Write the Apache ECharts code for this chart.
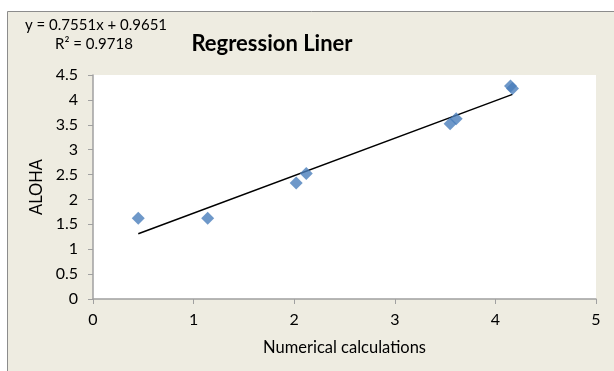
<!DOCTYPE html>
<html>
<head>
<meta charset="utf-8">
<script src="https://cdn.jsdelivr.net/npm/echarts@6/dist/echarts.min.js"></script>
<style>
html,body{margin:0;padding:0;background:#ffffff;}
#c{width:614px;height:371px;}
</style>
</head>
<body>
<div id="c"></div>
<script>
// Data
var xValues = [0.45, 1.14, 2.02, 2.12, 3.55, 3.61, 4.15, 4.17];
var yValues = [1.62, 1.62, 2.33, 2.52, 3.52, 3.62, 4.28, 4.23];
var trendX = [0.45, 4.17];
var trendY = [1.31, 4.11];
var xTicks = [0, 1, 2, 3, 4, 5];
var yTicks = [0, 0.5, 1, 1.5, 2, 2.5, 3, 3.5, 4, 4.5];
var titleText = 'Regression Liner';
var equationText = 'y = 0.7551x + 0.9651';
var r2Text = 'R\u00B2 = 0.9718';
var xName = 'Numerical calculations';
var yName = 'ALOHA';

var points = xValues.map(function (x, i) { return [x, yValues[i]]; });
var trend = trendX.map(function (x, i) { return [x, trendY[i]]; });

var FONT = 'Lato';
var chart = echarts.init(document.getElementById('c'), null, {renderer: 'canvas'});
chart.setOption({
  animation: false,
  backgroundColor: '#ffffff',
  graphic: [
    {type: 'rect', z: -10, silent: true,
     shape: {x: 7.5, y: 11.5, width: 700, height: 500},
     style: {fill: '#EEECE1', stroke: '#8C8C8C', lineWidth: 1}},
    {type: 'text', left: 25, top: 18, z: 10,
     style: {text: equationText, font: '15px ' + FONT, fill: '#000000'}},
    {type: 'text', left: 55, top: 37, z: 10,
     style: {text: r2Text, font: '15px ' + FONT, fill: '#000000'}},
    {type: 'text', x: 272, y: 44, z: 10,
     style: {text: titleText, font: 'bold 22px ' + FONT, fill: '#000000',
             textAlign: 'center', textVerticalAlign: 'middle'}}
  ],
  grid: {left: 93, right: 18, top: 75, bottom: 72, show: true,
         backgroundColor: '#ffffff', borderWidth: 0, containLabel: false},
  xAxis: {
    type: 'value', min: 0, max: 5, interval: 1,
    name: xName, nameLocation: 'middle', nameGap: 40,
    nameTextStyle: {fontFamily: FONT, fontSize: 16.5, color: '#000000'},
    axisLine: {show: true, lineStyle: {color: '#A0A0A0', width: 1.5}},
    axisTick: {show: true, inside: false, length: 5, lineStyle: {color: '#A0A0A0'}},
    axisLabel: {fontFamily: FONT, fontSize: 16, color: '#000000', margin: 13},
    splitLine: {show: false}
  },
  yAxis: {
    type: 'value', min: 0, max: 4.5, interval: 0.5,
    name: yName, nameLocation: 'middle', nameGap: 46, nameRotate: 90,
    nameTextStyle: {fontFamily: FONT, fontSize: 16.5, color: '#000000'},
    axisLine: {show: true, lineStyle: {color: '#A0A0A0', width: 1.5}},
    axisTick: {show: true, inside: false, length: 5, lineStyle: {color: '#A0A0A0'}},
    axisLabel: {fontFamily: FONT, fontSize: 16, color: '#000000', margin: 15},
    splitLine: {show: false}
  },
  series: [
    {type: 'line', data: trend, showSymbol: false, symbol: 'none',
     lineStyle: {color: '#000000', width: 1.5}, z: 2, silent: true},
    {type: 'scatter', data: points, symbol: 'diamond', symbolSize: 13,
     itemStyle: {color: '#4A7EBB'}, z: 3}
  ]
});
</script>
</body>
</html>
